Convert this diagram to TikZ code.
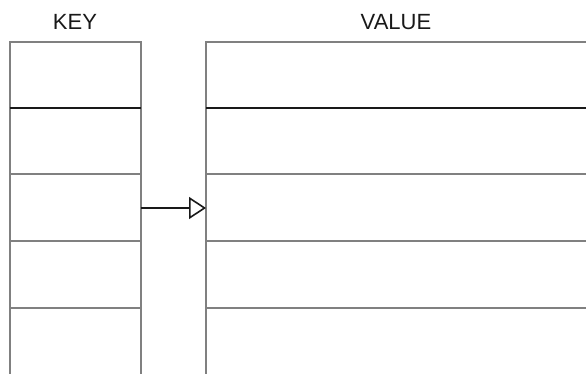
\documentclass[tikz,border=0pt]{standalone}
\usepackage{fontspec}
\setmainfont{Liberation Sans}
\usetikzlibrary{arrows.meta}
\begin{document}
\begin{tikzpicture}[x=1pt,y=-1pt,
  grid/.style={draw=black!50,line width=2pt},
  dark/.style={draw=black!90,line width=2.2pt},
  lbl/.style={font=\fontsize{22}{24}\selectfont,text=black!90,inner sep=0pt},
  conn/.style={draw=black!90,line width=1.8pt,-{Triangle[open,length=17pt,width=22pt,line width=1.6pt]}}]
\useasboundingbox (0,0) rectangle (586,374);
\node[lbl] (keylbl) at (75,22) {KEY};
\node[lbl] (vallbl) at (396,22) {VALUE};
% key column
\draw[grid] (9.5,374) -- (9.5,42) -- (140.5,42) -- (140.5,374);
\draw[dark] (9.5,108) -- (140.5,108);
\foreach \y in {174,241,308} \draw[grid] (9.5,\y) -- (140.5,\y);
% value column
\draw[grid] (206,374) -- (206,42) -- (586,42);
\draw[dark] (206,108) -- (586,108);
\foreach \y in {174,241,308} \draw[grid] (206,\y) -- (586,\y);
% arrow
\coordinate (keyrow) at (140.5,208);
\coordinate (valrow) at (206,208);
\draw[conn] (keyrow) -- (valrow);
\end{tikzpicture}
\end{document}
